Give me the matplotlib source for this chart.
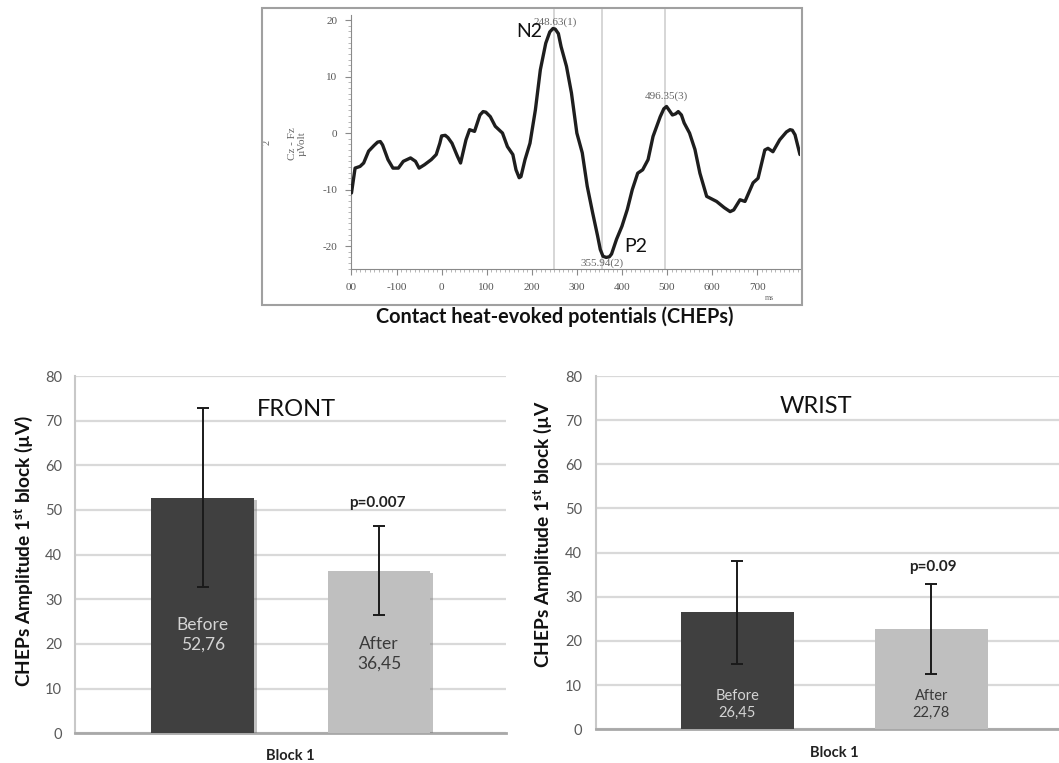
import matplotlib
matplotlib.use("Agg")
import matplotlib.pyplot as plt
import matplotlib.patheffects as pe
from matplotlib.patches import Rectangle
from matplotlib.ticker import MultipleLocator

plt.rcParams["font.family"] = ["Lato", "DejaVu Sans"]
plt.rcParams["mathtext.fontset"] = "custom"
plt.rcParams["mathtext.rm"] = "Lato"
plt.rcParams["mathtext.bf"] = "Lato:bold"
plt.rcParams["axes.unicode_minus"] = False

# --- CHEP waveform (Cz - Fz) ---
time_ms = [-200, -192, -181, -173, -162, -150, -142, -136, -131, -119, -108, -96, -85,
           -69, -58, -50, -38, -23, -12, -4, 0, 8, 14, 23, 35, 42, 54, 62, 73, 85, 92,
           98, 108, 119, 135, 146, 158, 165, 172, 176, 185, 196, 208, 219, 231, 240,
           247, 252, 259, 265, 277, 288, 300, 312, 323, 335, 346, 352, 358, 365, 372,
           377, 388, 400, 412, 423, 435, 446, 458, 469, 485, 493, 499, 506, 512, 519,
           525, 532, 538, 550, 562, 573, 588, 610, 627, 640, 648, 662, 673, 691, 702,
           717, 724, 735, 750, 765, 773, 778, 784, 795]
amp_uv = [-10.6, -6.2, -5.9, -5.3, -3.2, -2.2, -1.6, -1.5, -2.1, -4.7, -6.2, -6.2, -5.0,
          -4.4, -5.0, -6.2, -5.6, -4.7, -3.8, -1.8, -0.5, -0.4, -0.8, -1.8, -4.1, -5.3,
          -1.2, 0.6, 0.3, 3.2, 3.8, 3.7, 2.9, 1.2, 0.0, -2.4, -3.8, -6.5, -7.9, -7.7,
          -4.7, -1.8, 4.1, 11.2, 15.9, 17.9, 18.5, 18.4, 17.6, 15.3, 11.8, 7.1, 0.0,
          -3.5, -9.4, -14.1, -18.2, -20.6, -21.8, -22.0, -21.9, -21.4, -18.8, -16.5,
          -13.5, -10.0, -7.1, -6.5, -4.7, -0.6, 2.9, 4.3, 4.7, 3.9, 3.2, 3.4, 3.8, 3.2,
          1.8, 0.0, -2.9, -7.1, -11.2, -12.1, -13.2, -13.9, -13.6, -11.8, -12.1, -8.8,
          -8.0, -3.0, -2.7, -3.3, -1.2, 0.2, 0.6, 0.5, -0.3, -3.8]
marker_ms = [248.63, 355.94, 496.35]
marker_labels = ["248.63(1)", "355.94(2)", "496.35(3)"]
time_ticks = [-200, -100, 0, 100, 200, 300, 400, 500, 600, 700]
time_ticklabels = ["00", "-100", "0", "100", "200", "300", "400", "500", "600", "700"]

# --- bar charts ---
conditions = ["Before", "After"]
front_mean = [52.76, 36.45]
front_err = [20.0, 10.0]
front_labels = ["52,76", "36,45"]
wrist_mean = [26.45, 22.78]
wrist_err = [11.6, 10.2]
wrist_labels = ["26,45", "22,78"]
bar_colors = ["#404040", "#bfbfbf"]
text_colors = ["#d4d4d4", "#3a3a3a"]

fig = plt.figure(figsize=(10.59, 7.63), dpi=100)

# ---------------- top: waveform ----------------
fig.add_artist(Rectangle((0.2474, 0.6003), 0.5099, 0.3893, transform=fig.transFigure,
                         fill=False, ec="#a0a0a0", lw=1.5))
ax0 = fig.add_axes([0.3319, 0.6471, 0.4235, 0.3333])
for m in marker_ms:
    ax0.axvline(m, ymin=0, ymax=1.02, color="#d3d3d3", lw=1.3, clip_on=False, zorder=1)
ax0.plot(time_ms, amp_uv, color="#1e1e1e", lw=2.4, solid_joinstyle="round",
         solid_capstyle="round", zorder=3)
ax0.set_xlim(-200, 795)
ax0.set_ylim(-24.1, 20.9)
for s in ["top", "right"]:
    ax0.spines[s].set_visible(False)
for s in ["left", "bottom"]:
    ax0.spines[s].set_color("#8a8a8a")
    ax0.spines[s].set_linewidth(0.8)
ax0.set_xticks(time_ticks)
ax0.set_xticklabels(time_ticklabels)
ax0.set_yticks([-20, -10, 0, 10, 20])
ax0.xaxis.set_minor_locator(MultipleLocator(10))
ax0.yaxis.set_minor_locator(MultipleLocator(1))
ax0.tick_params(which="major", length=4, width=0.8, color="#8a8a8a",
                labelsize=8, labelcolor="#555555", pad=6)
ax0.tick_params(which="minor", length=2, width=0.5, color="#9a9a9a")
serif = ["Liberation Serif", "DejaVu Serif"]
for lab in ax0.get_xticklabels() + ax0.get_yticklabels():
    lab.set_family(serif)

ax0.text(253, 19.7, marker_labels[0], fontsize=8, color="#666666", family=serif,
         ha="center", va="center", zorder=4)
ax0.text(355, -23.0, marker_labels[1], fontsize=8, color="#666666", family=serif,
         ha="center", va="center", zorder=4)
ax0.text(498, 6.5, marker_labels[2], fontsize=8, color="#666666", family=serif,
         ha="center", va="center", zorder=4)
ax0.text(194, 18.0, "N2", fontsize=14, color="#111111", ha="center", va="center", zorder=4)
ax0.text(431, -20.1, "P2", fontsize=14, color="#111111", ha="center", va="center", zorder=4)
ax0.text(728, -29.2, "ms", fontsize=5.5, color="#666666", family=serif,
         ha="center", va="center", clip_on=False)
ax0.text(-320, -1.8, "Cz - Fz\nµVolt", fontsize=8, color="#666666", family=serif,
         rotation=90, ha="center", va="center", linespacing=1.1, clip_on=False)
ax0.text(-388, -1.7, "2", fontsize=7.5, color="#666666", family=serif,
         rotation=90, ha="center", va="center", clip_on=False)
fig.text(0.5237, 0.5849, "Contact heat-evoked potentials (CHEPs)", fontsize=14.3,
         fontweight="bold", color="#111111", ha="center", va="center")


# ---------------- bottom: bar charts ----------------
def bar_panel(rect, xlim, width, means, errs, vals, title, title_xy, pval, p_xy,
              text_y, shadow, text_size, pad):
    ax = fig.add_axes(rect)
    x = list(range(len(conditions)))
    bars = ax.bar(x, means, width=width, color=bar_colors, zorder=3)
    if shadow:
        for b in bars:
            b.set_path_effects([pe.SimplePatchShadow(offset=(2, -1.5), shadow_rgbFace="#777777",
                                                     alpha=0.45), pe.Normal()])
    ax.errorbar(x, means, yerr=errs, fmt="none", ecolor="#1a1a1a", elinewidth=1.4,
                capsize=4.5, capthick=1.4, zorder=4)
    ax.set_xlim(*xlim)
    ax.set_ylim(0, 80)
    ax.set_yticks(range(0, 81, 10))
    ax.set_xticks([])
    ax.yaxis.grid(True, color="#d9d9d9", lw=1.6, zorder=0)
    ax.set_axisbelow(True)
    for s in ["top", "right"]:
        ax.spines[s].set_visible(False)
    ax.spines["left"].set_color("#c8c8c8")
    ax.spines["left"].set_linewidth(1.5)
    ax.spines["bottom"].set_color("#a8a8a8")
    ax.spines["bottom"].set_linewidth(2)
    ax.tick_params(axis="y", length=0, labelsize=10.5, labelcolor="#595959", pad=pad)
    for i in x:
        ax.text(i, text_y[i], conditions[i] + "\n" + vals[i], fontsize=text_size,
                color=text_colors[i], ha="center", va="center", linespacing=1.25, zorder=5)
    ax.text(title_xy[0], title_xy[1], title, fontsize=17, color="#111111",
            ha="center", va="center")
    ax.text(p_xy[0], p_xy[1], pval, fontsize=11, fontweight="bold", color="#222222",
            ha="center", va="center")
    return ax


bar_panel([0.0705, 0.0389, 0.4070, 0.4683], (-0.727, 1.719), 0.582,
          front_mean, front_err, front_labels, "FRONT", (0.529, 72.5),
          "p=0.007", (0.989, 51.5), [22.0, 17.8], True, 12.5, 9)
bar_panel([0.5628, 0.0442, 0.4372, 0.4630], (-0.730, 1.659), 0.583,
          wrist_mean, wrist_err, wrist_labels, "WRIST", (0.405, 73.1),
          "p=0.09", (1.009, 36.7), [5.6, 5.6], False, 10.5, 10)

fig.text(0.2738, 0.0092, "Block 1", fontsize=10.5, fontweight="bold", color="#222222",
         ha="center", va="center")
fig.text(0.7875, 0.0135, "Block 1", fontsize=10.5, fontweight="bold", color="#222222",
         ha="center", va="center")
fig.text(0.0220, 0.2781, r"CHEPs Amplitude 1$^{\mathbf{st}}$ block (µV)", fontsize=13.8,
         fontweight="bold", color="#111111", rotation=90, ha="center", va="center")
fig.text(0.5125, 0.3001, r"CHEPs Amplitude 1$^{\mathbf{st}}$ block (µV", fontsize=13.8,
         fontweight="bold", color="#111111", rotation=90, ha="center", va="center")

fig.savefig("out.png", dpi=100)
